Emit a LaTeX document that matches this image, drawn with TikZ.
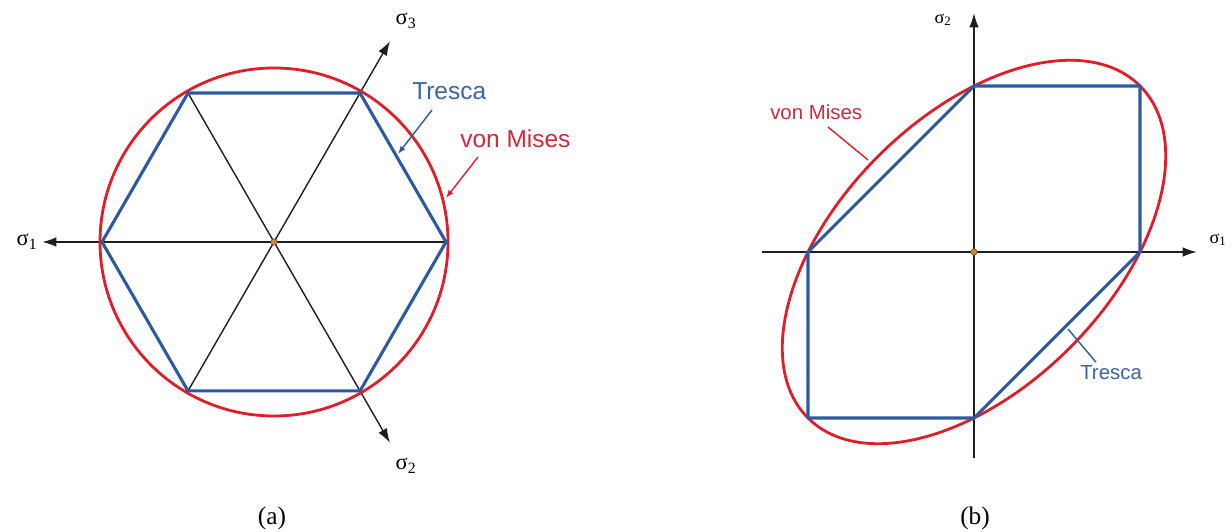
\documentclass[tikz,border=0pt]{standalone}
\usepackage{fontspec}
\setmainfont{Liberation Serif}
\setsansfont{Liberation Sans}
\usepackage{tikz}
\usetikzlibrary{arrows.meta, positioning, calc}
\definecolor{trescacolor}{HTML}{2C5AA0}
\definecolor{misescolor}{HTML}{E01E2A}
\definecolor{trescatext}{HTML}{3A64A8}
\definecolor{misestext}{HTML}{D2283C}
\definecolor{axiscolor}{HTML}{1E1E1E}
\definecolor{origincolor}{HTML}{C98A3C}

\begin{document}
\begin{tikzpicture}[x=0.025cm, y=0.025cm,
    axisline/.style={draw=axiscolor, line width=1.3pt},
    axisarrow/.style={axisline, -{Latex[length=3.6mm, width=2.4mm]}},
    trescaline/.style={draw=trescacolor, line width=2.2pt, line join=round},
    misesline/.style={draw=misescolor, line width=2pt},
    origindot/.style={circle, fill=origincolor, draw=origincolor!55!black,
                      line width=0.4pt, inner sep=0pt, minimum size=4.5pt},
    siglabel/.style={font=\fontsize{16}{18}\selectfont, inner sep=0pt},
    smallsig/.style={font=\fontsize{13}{15}\selectfont, inner sep=0pt},
    namelabel/.style={font=\sffamily\fontsize{17.4}{20}\selectfont, inner sep=0pt, anchor=south west},
    smallname/.style={font=\sffamily\fontsize{14.5}{17}\selectfont, inner sep=0pt, anchor=south west},
    pointer/.style={line width=1pt, -{Latex[length=2mm, width=1.5mm]}},
    pointerline/.style={line width=1pt},
    caption/.style={font=\fontsize{18}{20}\selectfont}]
  \useasboundingbox (0,0) rectangle (1232,532);

  % (a) deviatoric plane
  \coordinate (oa) at (274,290);
  \foreach \angle in {0,60,...,300}
    \coordinate (hex\angle) at ([shift={(\angle:172)}]oa);
  \coordinate (tipa1) at (42,290);
  \coordinate (tipa3) at ([shift={(60:232)}]oa);
  \coordinate (tipa2) at ([shift={(-60:232)}]oa);
  \draw[axisarrow] (hex0) -- (tipa1);
  \draw[axisarrow, line width=1pt] (hex240) -- (tipa3);
  \draw[axisarrow, line width=1pt] (hex120) -- (tipa2);
  \draw[misesline] (oa) circle [radius=174];
  \draw[trescaline] (hex0) -- (hex60) -- (hex120) -- (hex180) -- (hex240) -- (hex300) -- cycle;
  \node[origindot] (dota) at (oa) {};
  \node[siglabel] (siga1) at (27,290) {σ\textsubscript{1}};
  \node[siglabel] (siga3) at (406,511) {σ\textsubscript{3}};
  \node[siglabel] (siga2) at (406,66) {σ\textsubscript{2}};

  \node[namelabel, text=trescatext] (trescaa) at (412,432) {Tresca};
  \node[namelabel, text=misestext] (misesa) at (460,384) {von Mises};
  \coordinate (trescaedgea) at (398,378);
  \coordinate (misesedgea) at (446,334);
  \draw[pointer, trescacolor] ([shift={(20,-10)}]trescaa.south west) -- (trescaedgea);
  \draw[pointer, misescolor] ([shift={(18,-9)}]misesa.south west) -- (misesedgea);

  % (b) plane stress
  \coordinate (ob) at (974,280);
  \foreach \name/\px/\py in {v1/1/0, v2/1/1, v3/0/1, v4/-1/0, v5/-1/-1, v6/0/-1}
    \coordinate (\name) at ($(ob)+(166*\px,166*\py)$);
  \coordinate (axb1) at (762,280);
  \coordinate (tipb1) at (1197,280);
  \coordinate (axb2) at (974,74);
  \coordinate (tipb2) at (974,519);
  \draw[axisarrow] (axb1) -- (tipb1);
  \draw[axisarrow] (axb2) -- (tipb2);
  \draw[misesline, rotate around={45:(ob)}] (ob) ellipse [x radius=234.8, y radius=135.5];
  \draw[trescaline] (v1) -- (v2) -- (v3) -- (v4) -- (v5) -- (v6) -- cycle;
  \node[origindot] (dotb) at (ob) {};
  \node[smallsig] (sigb1) at (1218,292) {σ\textsubscript{1}};
  \node[smallsig] (sigb2) at (943,512) {σ\textsubscript{2}};

  \node[smallname, text=misestext] (misesb) at (770,412) {von Mises};
  \node[smallname, text=trescatext] (trescab) at (1080,152) {Tresca};
  \coordinate (misesedgeb) at (868,372);
  \coordinate (trescaedgeb) at (1068,203);
  \draw[pointerline, misescolor] ([shift={(58,-7)}]misesb.south west) -- (misesedgeb);
  \draw[pointerline, trescacolor] ([shift={(16,3)}]trescab.north west) -- (trescaedgeb);

  \node[caption] (capa) at (272,14) {(a)};
  \node[caption] (capb) at (975,14) {(b)};
\end{tikzpicture}
\end{document}
